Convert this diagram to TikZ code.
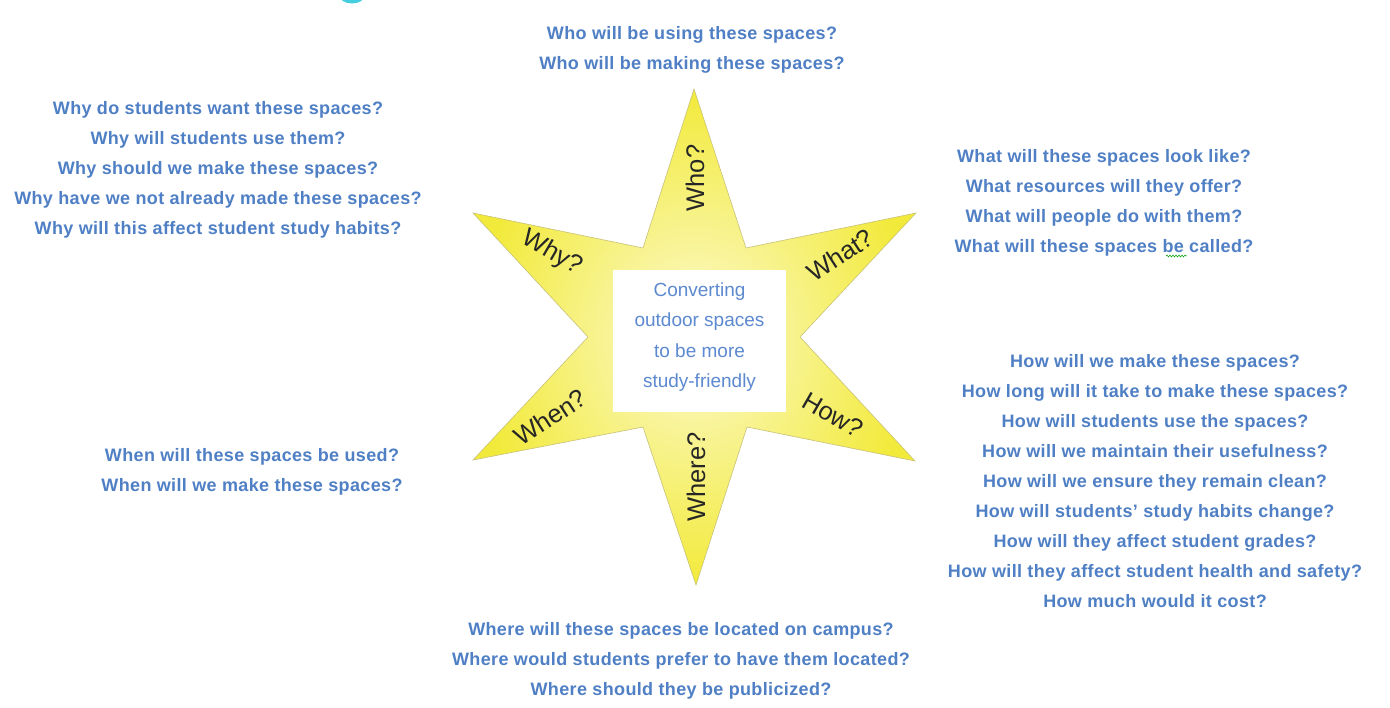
\documentclass[tikz,border=0pt]{standalone}
\usepackage{fontspec}
\setmainfont{Liberation Sans}
\usetikzlibrary{decorations.pathmorphing}
\definecolor{qblue}{HTML}{4F7FC4}
\definecolor{cblue}{HTML}{5C89D0}
\definecolor{staryel}{HTML}{F2EA3A}
\definecolor{starlight}{HTML}{FCFAD0}
\definecolor{staredge}{HTML}{C8C27A}
\definecolor{blob}{HTML}{45CDE0}
\tikzset{
  qtext/.style={text=qblue, font=\fontsize{18}{30}\selectfont\bfseries\addfontfeatures{LetterSpace=2}, align=center, inner sep=0pt},
  armlabel/.style={text=black!85, font=\fontsize{25.5}{25.5}\selectfont, inner sep=0pt},
  centrebox/.style={fill=white, minimum width=173pt, minimum height=142pt, inner sep=0pt},
  centretext/.style={text=cblue, font=\fontsize{19}{30.5}\selectfont, align=center, inner sep=0pt}
}
\begin{document}
\begin{tikzpicture}[x=1pt,y=-1pt]
\useasboundingbox (0,0) rectangle (1390,708);
\fill[white] (0,0) rectangle (1390,708);
% cyan blob at top edge
\begin{scope}
\clip (0,0) rectangle (1390,708);
\fill[blob] (352,-5) ellipse (13 and 8.5);
\end{scope}
% star
\coordinate (t1) at (694,89);
\coordinate (i1) at (746,248);
\coordinate (t2) at (916,213);
\coordinate (i2) at (800,337);
\coordinate (t3) at (915,461);
\coordinate (i3) at (747,427);
\coordinate (t4) at (696,585);
\coordinate (i4) at (643,427);
\coordinate (t5) at (473,460);
\coordinate (i5) at (588,337);
\coordinate (t6) at (473,213);
\coordinate (i6) at (643,248);
\shade[inner color=starlight, outer color=staryel, draw=staredge, line width=0.6pt, line join=miter]
  (t1) -- (i1) -- (t2) -- (i2) -- (t3) -- (i3) -- (t4) -- (i4) -- (t5) -- (i5) -- (t6) -- (i6) -- cycle;
% centre box
\node[centrebox] (centre) at (699.5,341) {};
\node[centretext] (centretxt) at (699.5,337) {Converting\\outdoor spaces\\to be more\\study-friendly};
% arm labels
\node[armlabel, rotate=90] (who) at (695,178) {Who?};
\node[armlabel, rotate=-30] (why) at (552,253) {Why?};
\node[armlabel, rotate=33] (what) at (840,255) {What?};
\node[armlabel, rotate=33] (when) at (550,417) {When?};
\node[armlabel, rotate=-30] (how) at (833,415) {How?};
\node[armlabel, rotate=90] (where) at (696,477) {Where?};
% question groups
\node[qtext, anchor=north] (qwho) at (692,26) {Who will be using these spaces?\\Who will be making these spaces?};
\node[qtext, anchor=north] (qwhy) at (218,101) {Why do students want these spaces?\\Why will students use them?\\Why should we make these spaces?\\Why have we not already made these spaces?\\Why will this affect student study habits?};
\node[qtext, anchor=north] (qwhat) at (1104,149) {What will these spaces look like?\\What resources will they offer?\\What will people do with them?\\What will these spaces be called?};
\node[qtext, anchor=north] (qhow) at (1155,354) {How will we make these spaces?\\How long will it take to make these spaces?\\How will students use the spaces?\\How will we maintain their usefulness?\\How will we ensure they remain clean?\\How will students’ study habits change?\\How will they affect student grades?\\How will they affect student health and safety?\\How much would it cost?};
\node[qtext, anchor=north] (qwhen) at (252,448) {When will these spaces be used?\\When will we make these spaces?};
\node[qtext, anchor=north] (qwhere) at (681,622) {Where will these spaces be located on campus?\\Where would students prefer to have them located?\\Where should they be publicized?};
% spell-check squiggle under "be"
\coordinate (sq1) at (1166,256);
\coordinate (sq2) at (1187,256);
\draw[green!60!black, line width=0.5pt, decorate, decoration={snake, amplitude=1pt, segment length=3pt}] (sq1) -- (sq2);
\end{tikzpicture}
\end{document}
